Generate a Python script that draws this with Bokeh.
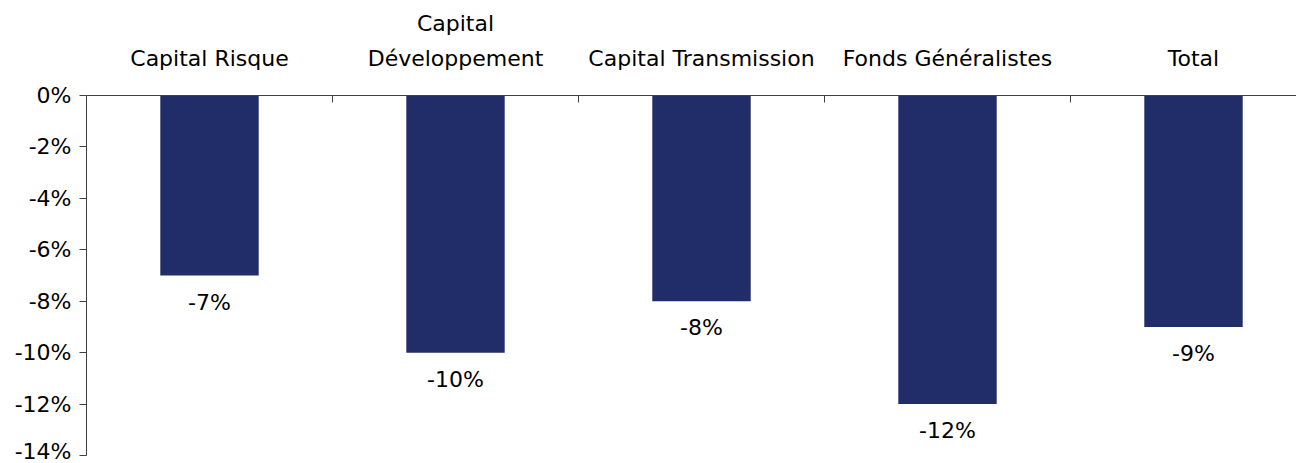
from bokeh.plotting import figure
from bokeh.models import ColumnDataSource, FixedTicker, Range1d
from bokeh.embed import file_html
from bokeh.resources import INLINE
from bokeh.core.properties import value

categories = ["Capital Risque", "Capital\nDéveloppement", "Capital Transmission", "Fonds Généralistes", "Total"]
values = [-7, -10, -8, -12, -9]
y_ticks = [-14, -12, -10, -8, -6, -4, -2, 0]

FONT = "DejaVu Sans"
FS = "22px"
n = len(categories)
xs = [i + 0.5 for i in range(n)]
labels = [f"{v}%" for v in values]

src = ColumnDataSource(dict(x=xs, top=values, lab=labels))

p = figure(width=1296, height=463, output_backend="svg", toolbar_location=None,
           x_range=Range1d(0, 1210 / 246), y_range=Range1d(-14, 0),
           x_axis_location="above",
           min_border_left=86, min_border_top=95, min_border_bottom=8, min_border_right=0)
p.outline_line_color = None
p.xgrid.visible = False
p.ygrid.visible = False
p.background_fill_color = "white"
p.border_fill_color = "white"

p.vbar(x="x", top="top", bottom=0, width=0.4, source=src, fill_color="#212D69", line_color=None)
p.text(x="x", y="top", text="lab", source=src, text_align="center", text_baseline="top",
       y_offset=14, text_font=value(FONT), text_font_size=FS, text_color="#000000")

xa = p.xaxis[0]
xa.ticker = FixedTicker(ticks=xs, minor_ticks=[1, 2, 3, 4])
xa.major_label_overrides = {x: c for x, c in zip(xs, categories)}
xa.major_tick_in = 0
xa.major_tick_out = 0
xa.minor_tick_in = 7
xa.minor_tick_out = 0
xa.minor_tick_line_color = "#404040"
xa.axis_line_color = "#404040"
xa.major_label_text_font = FONT
xa.major_label_text_font_size = FS
xa.major_label_text_color = "#000000"
xa.major_label_text_line_height = 1.4
xa.major_label_standoff = 25

ya = p.yaxis[0]
ya.ticker = FixedTicker(ticks=y_ticks, minor_ticks=[])
ya.major_label_overrides = {t: f"{t}%" for t in y_ticks}
ya.major_tick_in = 0
ya.major_tick_out = 7
ya.major_tick_line_color = "#404040"
ya.axis_line_color = "#404040"
ya.major_label_text_font = FONT
ya.major_label_text_font_size = FS
ya.major_label_text_color = "#000000"
ya.major_label_standoff = 8

open("out.html", "w").write(file_html(p, INLINE))
